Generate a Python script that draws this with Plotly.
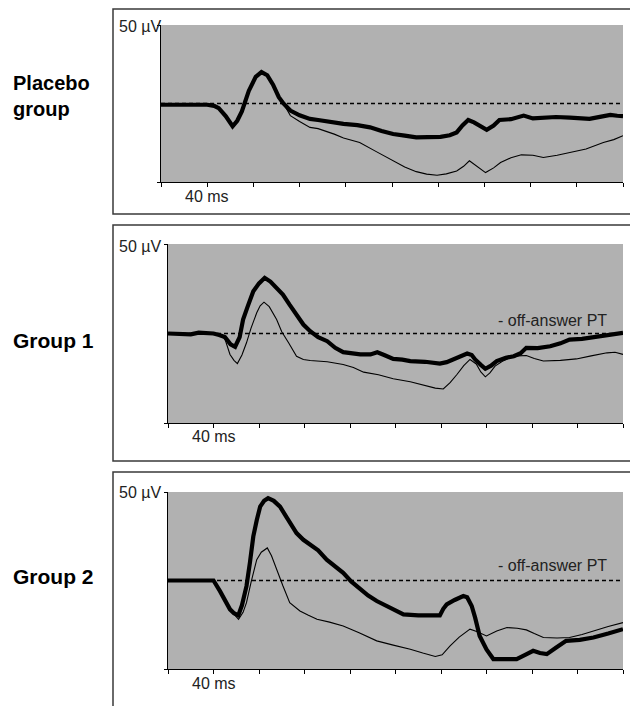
import plotly.graph_objects as go

W, H = 630, 706

# ---------------- data (time in ms, amplitude in µV) ----------------
placebo_thick_t = [0, 10, 20, 30, 40, 46, 50, 56, 62, 66, 70, 76, 82, 87, 92, 97, 102, 106, 112, 120, 129, 136, 143, 150, 158, 170, 181, 191, 201, 211, 221, 231, 242, 250, 256, 261, 266, 271, 276, 282, 288, 293, 303, 314, 322, 331, 342, 354, 362, 371, 380, 389, 395, 400]
placebo_thick_v = [-0.8, -0.5, -0.8, -0.8, -0.8, -1.5, -3, -8, -14.5, -11, -5, 8, 17, 20, 18, 12, 4, 0, -4.5, -7.5, -9.8, -10.5, -11.5, -12, -13, -13.8, -15.2, -17.5, -19.4, -20.5, -21.6, -21.4, -21.2, -20.2, -18.4, -14, -10.5, -12, -14.5, -16.7, -14, -10.5, -10, -7.7, -9.5, -9.2, -8.6, -9, -9.6, -9.8, -8.5, -7.3, -7.8, -8]
placebo_thin_t = [0, 40, 46, 50, 56, 62, 66, 70, 76, 82, 87, 92, 97, 102, 106, 112, 120, 129, 136, 143, 150, 158, 172, 186, 201, 211, 221, 230, 239, 247, 256, 262, 267, 274, 281, 288, 294, 303, 312, 322, 331, 343, 354, 368, 383, 392, 400]
placebo_thin_v = [-0.8, -0.8, -1.5, -3, -8, -14.5, -11, -5, 8, 17, 20, 18, 12, 4, 0, -7.7, -11.5, -15.2, -16, -17.7, -19.5, -22, -24.8, -30.5, -36.5, -40.5, -43.4, -45, -45.7, -44.8, -43, -40, -36.5, -40, -44, -41, -37.6, -34.5, -32.7, -33, -34.4, -33, -31.2, -29, -24.8, -23, -20.5]

g1_thick_t = [0, 10, 20, 27, 33, 40, 45, 50, 55, 59, 63, 66, 70, 75, 80, 85, 90, 95, 101, 107, 113, 119, 125, 132, 140, 147, 154, 161, 169, 178, 184, 190, 198, 206, 213, 226, 239, 245, 251, 257, 263, 267, 270, 275, 279, 284, 289, 297, 304, 310, 315, 325, 336, 345, 353, 364, 374, 387, 400]
g1_thick_v = [0, -0.3, -0.5, 0.5, 0.3, 0, -0.8, -2, -6, -7.4, -2, 7.8, 15, 23.6, 28, 31.1, 29, 26, 21.8, 16, 10.6, 5, 1.3, -2, -4.3, -8, -10.4, -11, -11.7, -11.7, -10.5, -12, -14.2, -14.6, -15.4, -15.8, -16.8, -16, -14.2, -12.5, -11.2, -12, -14.5, -17.5, -19.7, -18, -15.4, -13.5, -12.7, -11, -8, -8.2, -7.1, -5.5, -3.4, -3, -2.2, -1.2, 0.4]
g1_thin_t = [0, 40, 45, 50, 54.5, 58, 61, 65, 69, 73, 78, 81, 84.4, 89, 95.5, 100, 106, 113, 119, 125, 140, 154, 163, 172, 185, 198, 213, 227, 235, 242, 248, 254, 260, 265.5, 271, 275, 279, 283, 287.5, 294, 301, 308, 315, 322, 330, 345, 359, 372, 386, 393, 400]
g1_thin_v = [0, 0, -0.8, -3, -11.7, -15, -16.8, -12, -5.2, 3, 11.6, 15.5, 17.5, 15, 7.8, 1, -5.2, -12.7, -14.5, -15.1, -15.8, -17.3, -19, -21.6, -23, -25.3, -27, -29.4, -30.5, -31, -27.5, -22.9, -18, -14.5, -17, -21.5, -24.2, -22, -18.2, -15.5, -13.6, -12.5, -12.3, -14, -15.4, -15, -14.2, -12.5, -10.8, -10.5, -11.7]

g2_thick_t = [0, 10, 20, 30, 40, 45.7, 50, 54.5, 58, 61.8, 65, 69, 72, 75, 78, 81, 84.5, 88, 93, 98.5, 105, 113, 119, 125, 132, 139.5, 147, 154, 161, 169, 176, 183.5, 195, 207, 220, 239, 242, 245, 252, 259.6, 263, 267, 270, 274, 280, 286, 295, 306.5, 314, 321, 327, 333, 341, 350, 362, 374, 387, 400]
g2_thick_v = [0, 0, 0, 0, 0, -6, -11, -16.3, -18.5, -19.7, -14, -3.2, 10, 24.9, 34, 41.7, 45, 46.5, 45, 41.7, 35, 26.8, 23, 20.2, 17, 11.8, 8, 4.3, -0.5, -5.1, -8.5, -11.6, -15.5, -19.1, -19.7, -19.7, -16, -13.5, -11, -8.8, -9.5, -14.4, -21, -31.3, -39, -44.4, -44.4, -44.4, -42, -39.7, -41, -41.6, -38, -34.1, -33.5, -32.2, -30, -27.5]
g2_thin_t = [0, 40, 45.7, 50, 54.5, 58, 62, 66, 69, 73, 78, 82, 87.3, 91, 95.5, 101, 107, 116, 123, 131, 142, 154, 168, 183.5, 198, 213, 224, 235, 241, 248, 256, 265.5, 272, 280, 289, 298, 307, 315, 322, 330, 342, 353, 364, 374, 387, 400]
g2_thin_v = [0, 0, -6, -11, -16.3, -19, -21.9, -18, -12.5, -1, 11.8, 16, 18.4, 14, 6.2, -3, -12.5, -17.2, -19.5, -21.9, -23.5, -25.7, -29.5, -34.1, -36.5, -38.8, -41, -42.9, -42, -36.9, -32, -27.5, -29, -31.3, -28.5, -26.6, -27, -27.9, -30, -32.2, -32.5, -32.2, -30.5, -28.5, -26, -23.8]

group_labels = ["Placebo<br>group", "Group 1", "Group 2"]
x_ticks = [0, 40, 80, 120, 160, 200, 240, 280, 320, 360, 400]
x_label_value = 40
x_label_text = "40 ms"
y_ticks = [-50, 50]
y_label_text = "50 µV"
ref_label = "- off-answer PT"
show_ref_label = [False, True, True]

panels = [
    (placebo_thin_t, placebo_thin_v, placebo_thick_t, placebo_thick_v),
    (g1_thin_t, g1_thin_v, g1_thick_t, g1_thick_v),
    (g2_thin_t, g2_thin_v, g2_thick_t, g2_thick_v),
]

# ---------------- layout geometry (pixels from top-left) ----------------
plot_px = [  # x0, x1, y_top, y_bottom
    (161, 623, 25, 182),
    (168, 623, 244, 423),
    (168, 623, 492, 669),
]
box_px = [(113, 640, 9, 214), (113, 640, 225, 461), (113, 640, 472, 740)]
label_rows = [96, 340, 576]
ylab_rows = [27, 246, 492]
xlab_rows = [196, 436, 683]
ref_label_y = [None, 320, 565]

FONT = "Liberation Sans, Arial, sans-serif"
BG = "#b1b1b1"

fig = go.Figure()
layout = dict(
    width=W, height=H, margin=dict(l=0, r=0, t=0, b=0, autoexpand=False),
    paper_bgcolor="white", plot_bgcolor=BG, showlegend=False,
    shapes=[], annotations=[],
)

for i, (tt, tv, kt, kv) in enumerate(panels):
    n = "" if i == 0 else str(i + 1)
    xa, ya = "x" + n, "y" + n
    x0, x1, yt, yb = plot_px[i]
    fig.add_trace(go.Scatter(x=[0, 400], y=[0, 0], mode="lines", xaxis=xa, yaxis=ya,
                             line=dict(color="black", width=1.3, dash="4px,3px"), hoverinfo="skip"))
    fig.add_trace(go.Scatter(x=tt, y=tv, mode="lines", xaxis=xa, yaxis=ya,
                             line=dict(color="black", width=1.1), hoverinfo="skip"))
    fig.add_trace(go.Scatter(x=kt, y=kv, mode="lines", xaxis=xa, yaxis=ya,
                             line=dict(color="black", width=4.2), hoverinfo="skip"))
    layout["xaxis" + n] = dict(
        domain=[x0 / W, x1 / W], range=[0, 400], anchor=ya,
        tickmode="array", tickvals=x_ticks, showticklabels=False,
        ticks="outside", ticklen=4, tickwidth=1, tickcolor="black",
        showline=True, linecolor="black", linewidth=1.2,
        showgrid=False, zeroline=False, fixedrange=True, automargin=False,
    )
    layout["yaxis" + n] = dict(
        domain=[1 - yb / H, 1 - yt / H], range=[-50, 50], anchor=xa,
        tickmode="array", tickvals=y_ticks, showticklabels=False,
        ticks="outside", ticklen=3, tickwidth=1, tickcolor="black",
        showline=True, linecolor="black", linewidth=1.2,
        showgrid=False, zeroline=False, fixedrange=True, automargin=False,
    )
    bx0, bx1, byt, byb = box_px[i]
    layout["shapes"].append(dict(type="rect", xref="paper", yref="paper",
                                 x0=bx0 / W, x1=bx1 / W, y0=1 - byb / H, y1=1 - byt / H,
                                 line=dict(color="#3a3a3a", width=1.5), fillcolor="rgba(0,0,0,0)",
                                 layer="below"))
    # group label
    layout["annotations"].append(dict(
        xref="paper", yref="paper", x=11 / W, y=1 - label_rows[i] / H,
        xanchor="left", yanchor="middle", align="left", showarrow=False,
        text="<b>" + group_labels[i] + "</b>",
        font=dict(family=FONT, size=20 if i == 0 else 21, color="black"),
    ))
    # "50 µV" label
    layout["annotations"].append(dict(
        xref="paper", yref="paper", x=117 / W, y=1 - ylab_rows[i] / H,
        xanchor="left", yanchor="middle", showarrow=False,
        text=y_label_text, font=dict(family=FONT, size=16, color="#222"),
    ))
    # "40 ms" label
    layout["annotations"].append(dict(
        xref=xa, yref="paper", x=x_label_value, y=1 - xlab_rows[i] / H,
        xanchor="center", yanchor="middle", showarrow=False,
        text=x_label_text, font=dict(family=FONT, size=16, color="#222"),
    ))
    if show_ref_label[i]:
        layout["annotations"].append(dict(
            xref="paper", yref="paper", x=609 / W, y=1 - ref_label_y[i] / H,
            xanchor="right", yanchor="middle",
            showarrow=False, text=ref_label,
            font=dict(family=FONT, size=16, color="#222"),
        ))

fig.update_layout(**layout)
fig.write_html("out.html")
